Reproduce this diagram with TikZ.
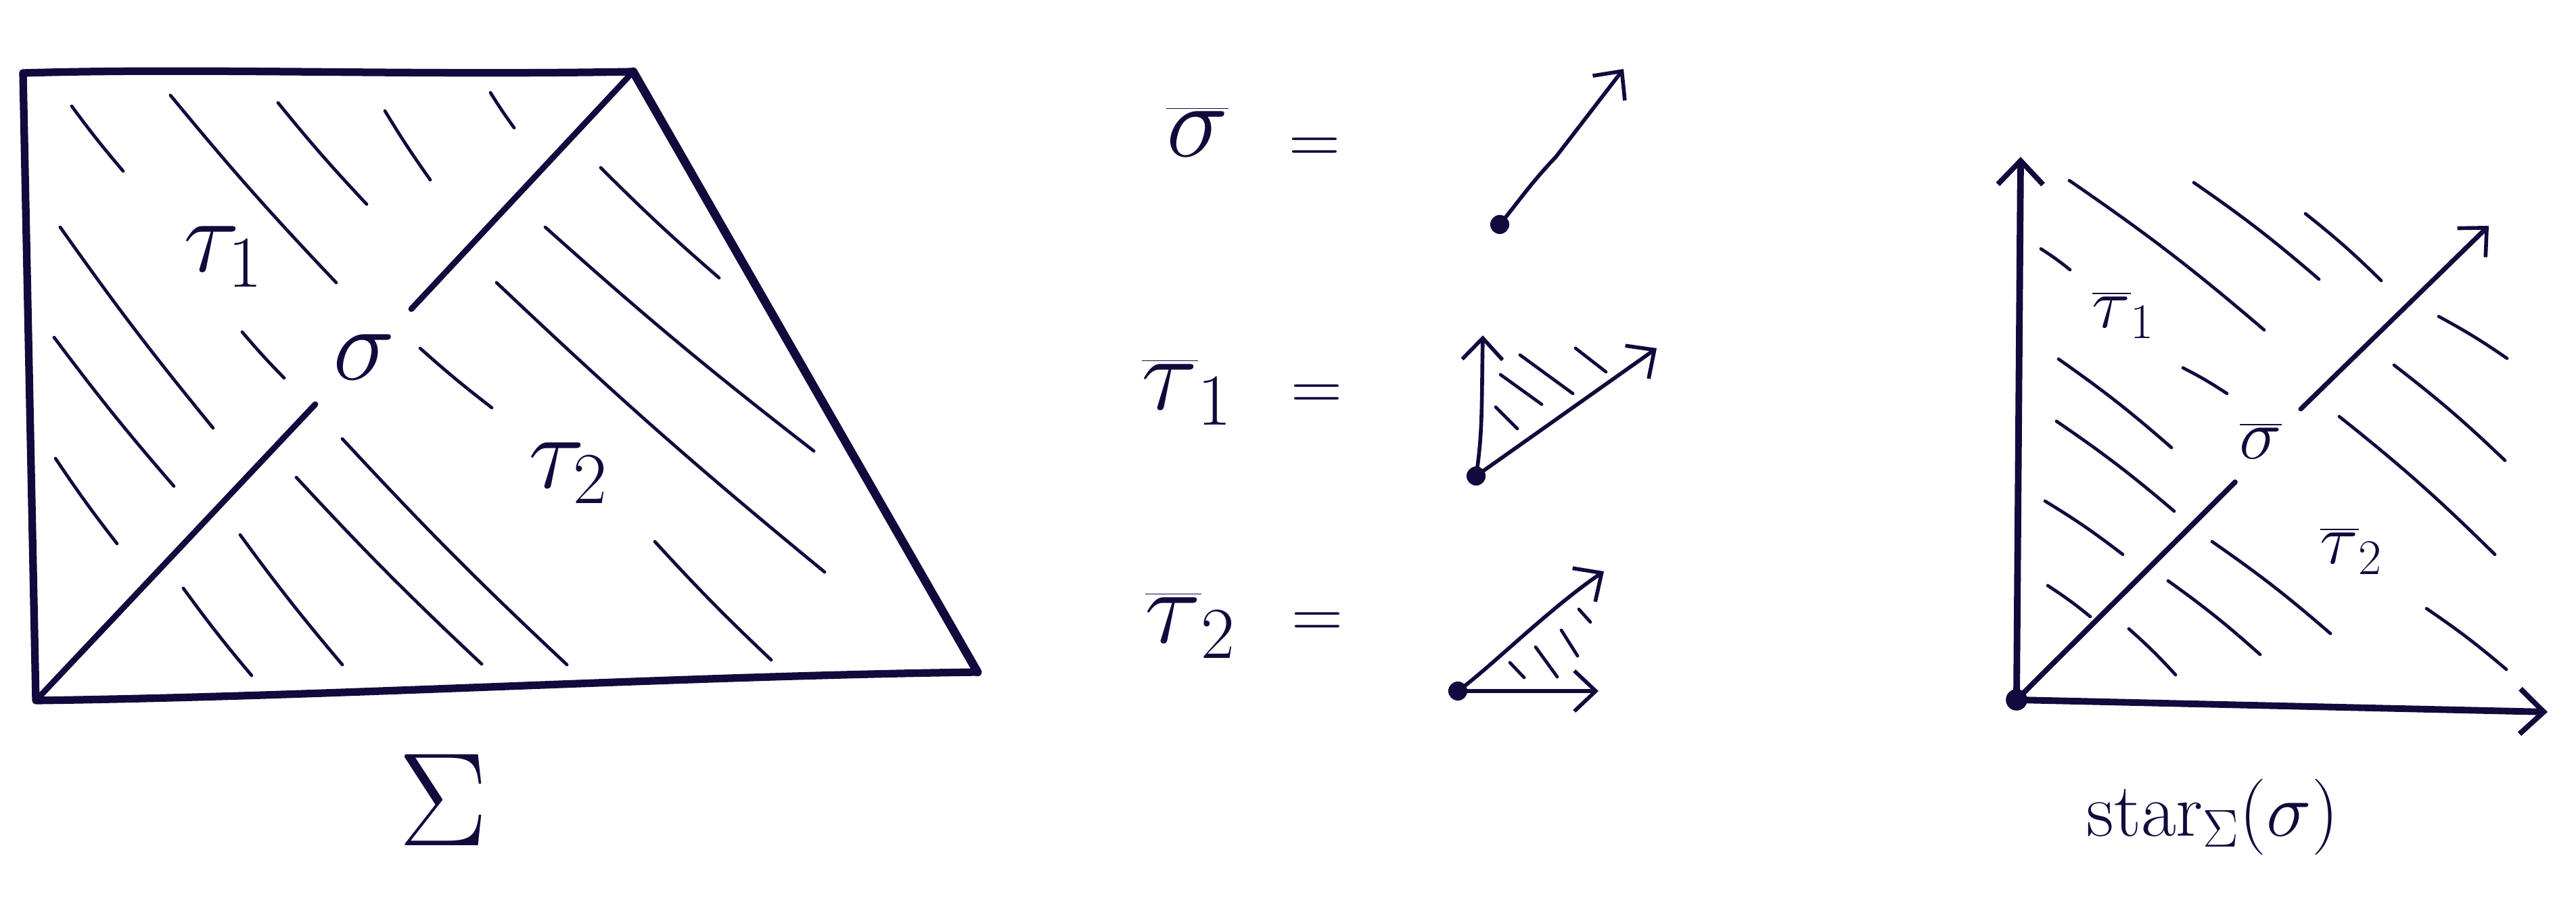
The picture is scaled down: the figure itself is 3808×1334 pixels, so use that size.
\RequirePackage{fix-cm}
\documentclass[tikz,border=0pt]{standalone}
\usetikzlibrary{arrows.meta}
\definecolor{inkc}{RGB}{18,10,60}
\begin{document}
\begin{tikzpicture}[x=0.01cm,y=-0.01cm,
  ink/.style={draw=inkc, line cap=round, line join=round},
  edgeline/.style={ink, line width=3.2pt},
  diagline/.style={ink, line width=2.5pt},
  hatch/.style={ink, line width=1.35pt},
  arr/.style={ink, line width=1.6pt, -{Straight Barb[length=9pt,width=17pt,line width=1.6pt]}},
  bigarr/.style={ink, line width=2.8pt, -{Straight Barb[length=10pt,width=19pt,line width=2.2pt]}},
  dot/.style={circle, fill=inkc, inner sep=0pt, minimum size=8pt},
  lblL/.style={text=inkc, inner sep=0pt, font=\fontsize{44}{52}\selectfont},
  lblR/.style={text=inkc, inner sep=0pt, font=\fontsize{30}{36}\selectfont},
  eqs/.style={text=inkc, inner sep=0pt, font=\fontsize{30}{36}\selectfont},
]
\useasboundingbox (0,0) rectangle (3808,1334);

% ---------------- left: Sigma ----------------
\coordinate (TL) at (34,108);
\coordinate (TR) at (936,106);
\coordinate (BR) at (1445,994);
\coordinate (BL) at (53,1036);
\draw[edgeline] (TL) .. controls (300,100) and (600,112) .. (TR);
\draw[edgeline, line width=3.6pt] (TR) -- (BR);
\draw[edgeline] (BR) .. controls (1000,1000) and (500,1030) .. (BL) -- (TL);
\coordinate (dlA) at (466,598);
\coordinate (dlB) at (608,457);
\draw[diagline] (BL) -- (dlA);
\draw[diagline] (dlB) -- (TR);

% hatches in Sigma
\foreach \ax/\ay/\bx/\by in {
  106/157/182/253, 252/141/497/418, 411/152/542/302,
  569/164/636/266, 725/137/760/189, 89/336/315/633,
  80/499/257/719, 82/678/173/804, 358/491/420/559,
  888/248/1063/411, 806/336/1203/667, 734/418/1219/846,
  621/515/727/603, 968/801/1140/976,
  506/649/838/983, 438/706/712/982, 355/791/506/983,
  271/870/372/999}
  \draw[hatch] (\ax,\ay) to[bend right=2] (\bx,\by);

\node[lblL] (t1L) at (330,380) {$\tau_1$};
\node[lblL] (sL) at (538,528) {$\sigma$};
\node[lblL] (t2L) at (840,700) {$\tau_2$};
\node[text=inkc, inner sep=0pt, font=\fontsize{56}{64}\selectfont] (SigL) at (655,1183) {$\Sigma$};

% ---------------- middle ----------------
\node[lblL] (sbar) at (1770,195) {$\overline{\sigma}$};
\node[eqs] (eq1) at (1943,223) {$=$};
\node[lblL] (t1bar) at (1755,580) {$\overline{\tau}_1$};
\node[eqs] (eq2) at (1946,588) {$=$};
\node[lblL] (t2bar) at (1760,925) {$\overline{\tau}_2$};
\node[eqs] (eq3) at (1947,925) {$=$};

% sigma bar picture
\node[dot] (d1) at (2217,332) {};
\coordinate (s1tip) at (2400,102);
\draw[arr] (d1.center) .. controls (2245,298) and (2262,272) .. (2300,232) -- (s1tip);

% tau1 bar picture
\node[dot] (d2) at (2182,704) {};
\coordinate (t1up) at (2192,496);
\coordinate (t1rt) at (2449,515);
\draw[arr] (d2.center) .. controls (2192,640) and (2190,600) .. (t1up);
\draw[arr] (d2.center) -- (t1rt);
\foreach \ax/\ay/\bx/\by in {2218/554/2279/598, 2247/525/2325/582,
  2329/515/2374/550, 2211/602/2243/634}
  \draw[hatch] (\ax,\ay) -- (\bx,\by);

% tau2 bar picture
\node[dot] (d3) at (2155,1022) {};
\coordinate (t2up) at (2371,845);
\coordinate (t2rt) at (2363,1022);
\draw[arr] (d3.center) .. controls (2200,990) and (2290,900) .. (t2up);
\draw[arr] (d3.center) -- (t2rt);
\foreach \ax/\ay/\bx/\by in {2334/901/2351/920, 2308/932/2332/970,
  2270/957/2302/1001, 2232/980/2253/1002}
  \draw[hatch] (\ax,\ay) -- (\bx,\by);

% ---------------- right: star ----------------
\node[dot, minimum size=9pt] (O) at (2981,1035) {};
\coordinate (vtip) at (2987,232);
\coordinate (htip) at (3766,1053);
\coordinate (dA) at (3304,713);
\coordinate (dB) at (3401,605);
\coordinate (dtip) at (3679,334);
\draw[bigarr] (O.center) -- (vtip);
\draw[bigarr] (O.center) -- (htip);
\draw[diagline, line width=2.2pt] (O.center) -- (dA);
\draw[arr, line width=2pt] (dB) -- (dtip);

\foreach \ax/\ay/\bx/\by in {
  3059/267/3347/488, 3243/270/3428/413, 3408/316/3520/415,
  3017/368/3060/399, 3043/531/3210/662, 3227/544/3292/582,
  3040/623/3214/756, 3023/741/3138/820, 3027/866/3090/912,
  3605/468/3706/530, 3539/540/3703/681, 3458/616/3688/820,
  3587/900/3705/990,
  3270/801/3445/937, 3205/859/3341/968, 3147/930/3216/998}
  \draw[hatch] (\ax,\ay) to[bend left=3] (\bx,\by);

\node[lblR] (t1R) at (3139,466) {$\overline{\tau}_1$};
\node[lblR] (sR) at (3342,652) {$\overline{\sigma}$};
\node[lblR] (t2R) at (3476,815) {$\overline{\tau}_2$};

\node[text=inkc, inner sep=0pt, anchor=base west, font=\fontsize{32}{38}\selectfont] (starlbl) at (3084,1236) {$\mathrm{star}_{\Sigma}(\sigma)$};
\end{tikzpicture}
\end{document}
